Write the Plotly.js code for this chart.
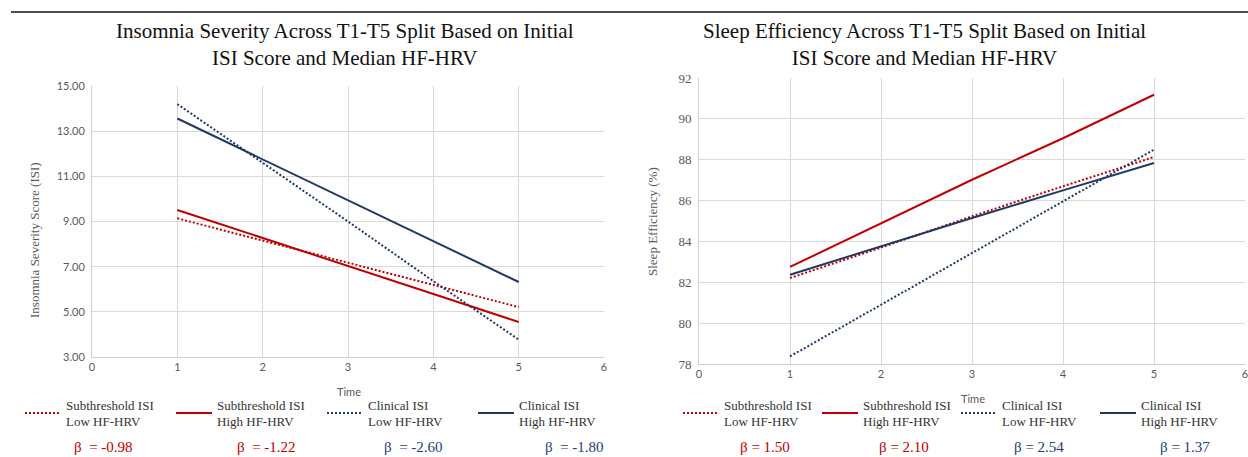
<!DOCTYPE html>
<html>
<head>
<meta charset="utf-8">
<script src="https://cdn.plot.ly/plotly-3.0.1.min.js"></script>
<style>html,body{margin:0;padding:0;background:#fff;}#chart{width:1248px;height:457px;}</style>
</head>
<body>
<div id="chart"></div>
<script>
// ---- data ----
const time = [1, 2, 3, 4, 5];
const seriesNames = [
  "Subthreshold ISI<br>Low HF-HRV",
  "Subthreshold ISI<br>High HF-HRV",
  "Clinical ISI<br>Low HF-HRV",
  "Clinical ISI<br>High HF-HRV"
];
// Insomnia Severity (ISI)
const isiSubLow  = [9.14, 8.16, 7.17, 6.20, 5.21];
const isiSubHigh = [9.51, 8.27, 7.05, 5.80, 4.55];
const isiClinLow = [14.20, 11.60, 9.00, 6.36, 3.77];
const isiClinHigh= [13.56, 11.75, 9.95, 8.13, 6.32];
const isiBetas = ["β  = -0.98", "β  = -1.22", "β  = -2.60", "β  = -1.80"];
// Sleep Efficiency (%)
const seSubLow  = [82.21, 83.70, 85.23, 86.70, 88.13];
const seSubHigh = [82.75, 84.90, 87.02, 89.05, 91.18];
const seClinLow = [78.37, 80.90, 83.46, 85.96, 88.49];
const seClinHigh= [82.37, 83.76, 85.15, 86.50, 87.84];
const seBetas = ["β = 1.50", "β = 2.10", "β = 2.54", "β = 1.37"];
const xTicks = [0, 1, 2, 3, 4, 5, 6];
const isiTicks = [3, 5, 7, 9, 11, 13, 15];
const seTicks = [78, 80, 82, 84, 86, 88, 90, 92];

// ---- style ----
const W = 1248, H = 457;
const RED = "#c00000", NAVY = "#1f3864";
const styles = [
  {color: RED, dash: "2px,2px"},
  {color: RED, dash: "solid"},
  {color: NAVY, dash: "2px,2px"},
  {color: NAVY, dash: "solid"}
];
const betaColors = [RED, RED, "#1f3d7a", "#1f3d7a"];
const px = v => v / W, py = v => 1 - v / H;

const isiSeries = [isiSubLow, isiSubHigh, isiClinLow, isiClinHigh];
const seSeries = [seSubLow, seSubHigh, seClinLow, seClinHigh];

const traces = [];
isiSeries.forEach((ys, i) => traces.push({
  x: time, y: ys, xaxis: "x", yaxis: "y", mode: "lines", name: seriesNames[i],
  legend: "legend", line: {color: styles[i].color, dash: styles[i].dash, width: 2}, hoverinfo: "skip"
}));
seSeries.forEach((ys, i) => traces.push({
  x: time, y: ys, xaxis: "x2", yaxis: "y2", mode: "lines", name: seriesNames[i],
  legend: "legend2", line: {color: styles[i].color, dash: styles[i].dash, width: 2}, hoverinfo: "skip"
}));

const sansTick = {family: "Lato, 'DejaVu Sans', sans-serif", size: 11, color: "#595959"};
const serifTick = {family: "'Liberation Serif', 'Times New Roman', serif", size: 13, color: "#595959"};
const axisBase = {
  showgrid: true, gridcolor: "#d9d9d9", gridwidth: 1, zeroline: false,
  showline: true, linecolor: "#d0d0d0", linewidth: 1, ticks: "", fixedrange: true,
  ticklabeloverflow: "allow"
};

const titleFont = {family: "'Liberation Serif', 'Times New Roman', serif", size: 21, color: "#111"};
const legFont = {family: "'Liberation Serif', 'Times New Roman', serif", size: 13, color: "#333"};

function ann(text, x, y, font, extra) {
  return Object.assign({text: text, x: px(x), y: py(y), xref: "paper", yref: "paper", showarrow: false,
    xanchor: "center", yanchor: "middle", font: font}, extra || {});
}
const axTitleFont = {family: "'Liberation Serif', serif", size: 13, color: "#595959"};
const annotations = [
  ann("Insomnia Severity Across T1-T5 Split Based on Initial<br>ISI Score and Median HF-HRV", 345, 45, titleFont, {align: "center"}),
  ann("Sleep Efficiency Across T1-T5 Split Based on Initial<br>ISI Score and Median HF-HRV", 924, 45, titleFont, {align: "center"}),
  ann("Insomnia Severity Score (ISI)", 35, 240, axTitleFont, {textangle: -90}),
  ann("Sleep Efficiency (%)", 652, 222, axTitleFont, {textangle: -90}),
  ann("Time", 349, 391, sansTick),
  ann("Time", 973, 398, sansTick)
];
const isiBetaX = [103, 266, 413, 574];
const seBetaX = [765, 904, 1039, 1185];
isiBetas.forEach((t, i) => annotations.push(ann(t, isiBetaX[i], 447, {family: "'Liberation Serif', serif", size: 15, color: betaColors[i]})));
seBetas.forEach((t, i) => annotations.push(ann(t, seBetaX[i], 447, {family: "'Liberation Serif', serif", size: 15, color: betaColors[i]})));

const layout = {
  width: W, height: H,
  margin: {l: 0, r: 0, t: 0, b: 0},
  paper_bgcolor: "#fff", plot_bgcolor: "#fff",
  showlegend: true,
  xaxis: Object.assign({}, axisBase, {domain: [px(92), px(604)], range: [0, 6], tickvals: xTicks, tickfont: sansTick, anchor: "y"}),
  yaxis: Object.assign({}, axisBase, {domain: [py(357), py(86)], range: [3, 15], tickvals: isiTicks, tickformat: ".2f", tickfont: sansTick, anchor: "x", ticklabelstandoff: 4}),
  xaxis2: Object.assign({}, axisBase, {domain: [px(699), px(1245)], range: [0, 6], tickvals: xTicks, tickfont: sansTick, anchor: "y2"}),
  yaxis2: Object.assign({}, axisBase, {domain: [py(364), py(78)], range: [78, 92], tickvals: seTicks, tickfont: serifTick, anchor: "x2", ticklabelstandoff: 4}),
  legend: {orientation: "h", x: px(20), xanchor: "left", y: py(413), yanchor: "middle",
    font: legFont, itemwidth: 36, entrywidth: 100, entrywidthmode: "pixels", bgcolor: "rgba(0,0,0,0)"},
  legend2: {orientation: "h", x: px(678), xanchor: "left", y: py(413), yanchor: "middle",
    font: legFont, itemwidth: 36, entrywidth: 88, entrywidthmode: "pixels", bgcolor: "rgba(0,0,0,0)"},
  shapes: [
    {type: "line", xref: "paper", yref: "paper", x0: px(11), x1: 1, y0: py(12), y1: py(12), line: {color: "#111", width: 1.5}}
  ],
  annotations: annotations
};

Plotly.newPlot("chart", traces, layout, {staticPlot: true, displayModeBar: false});
</script>
</body>
</html>
